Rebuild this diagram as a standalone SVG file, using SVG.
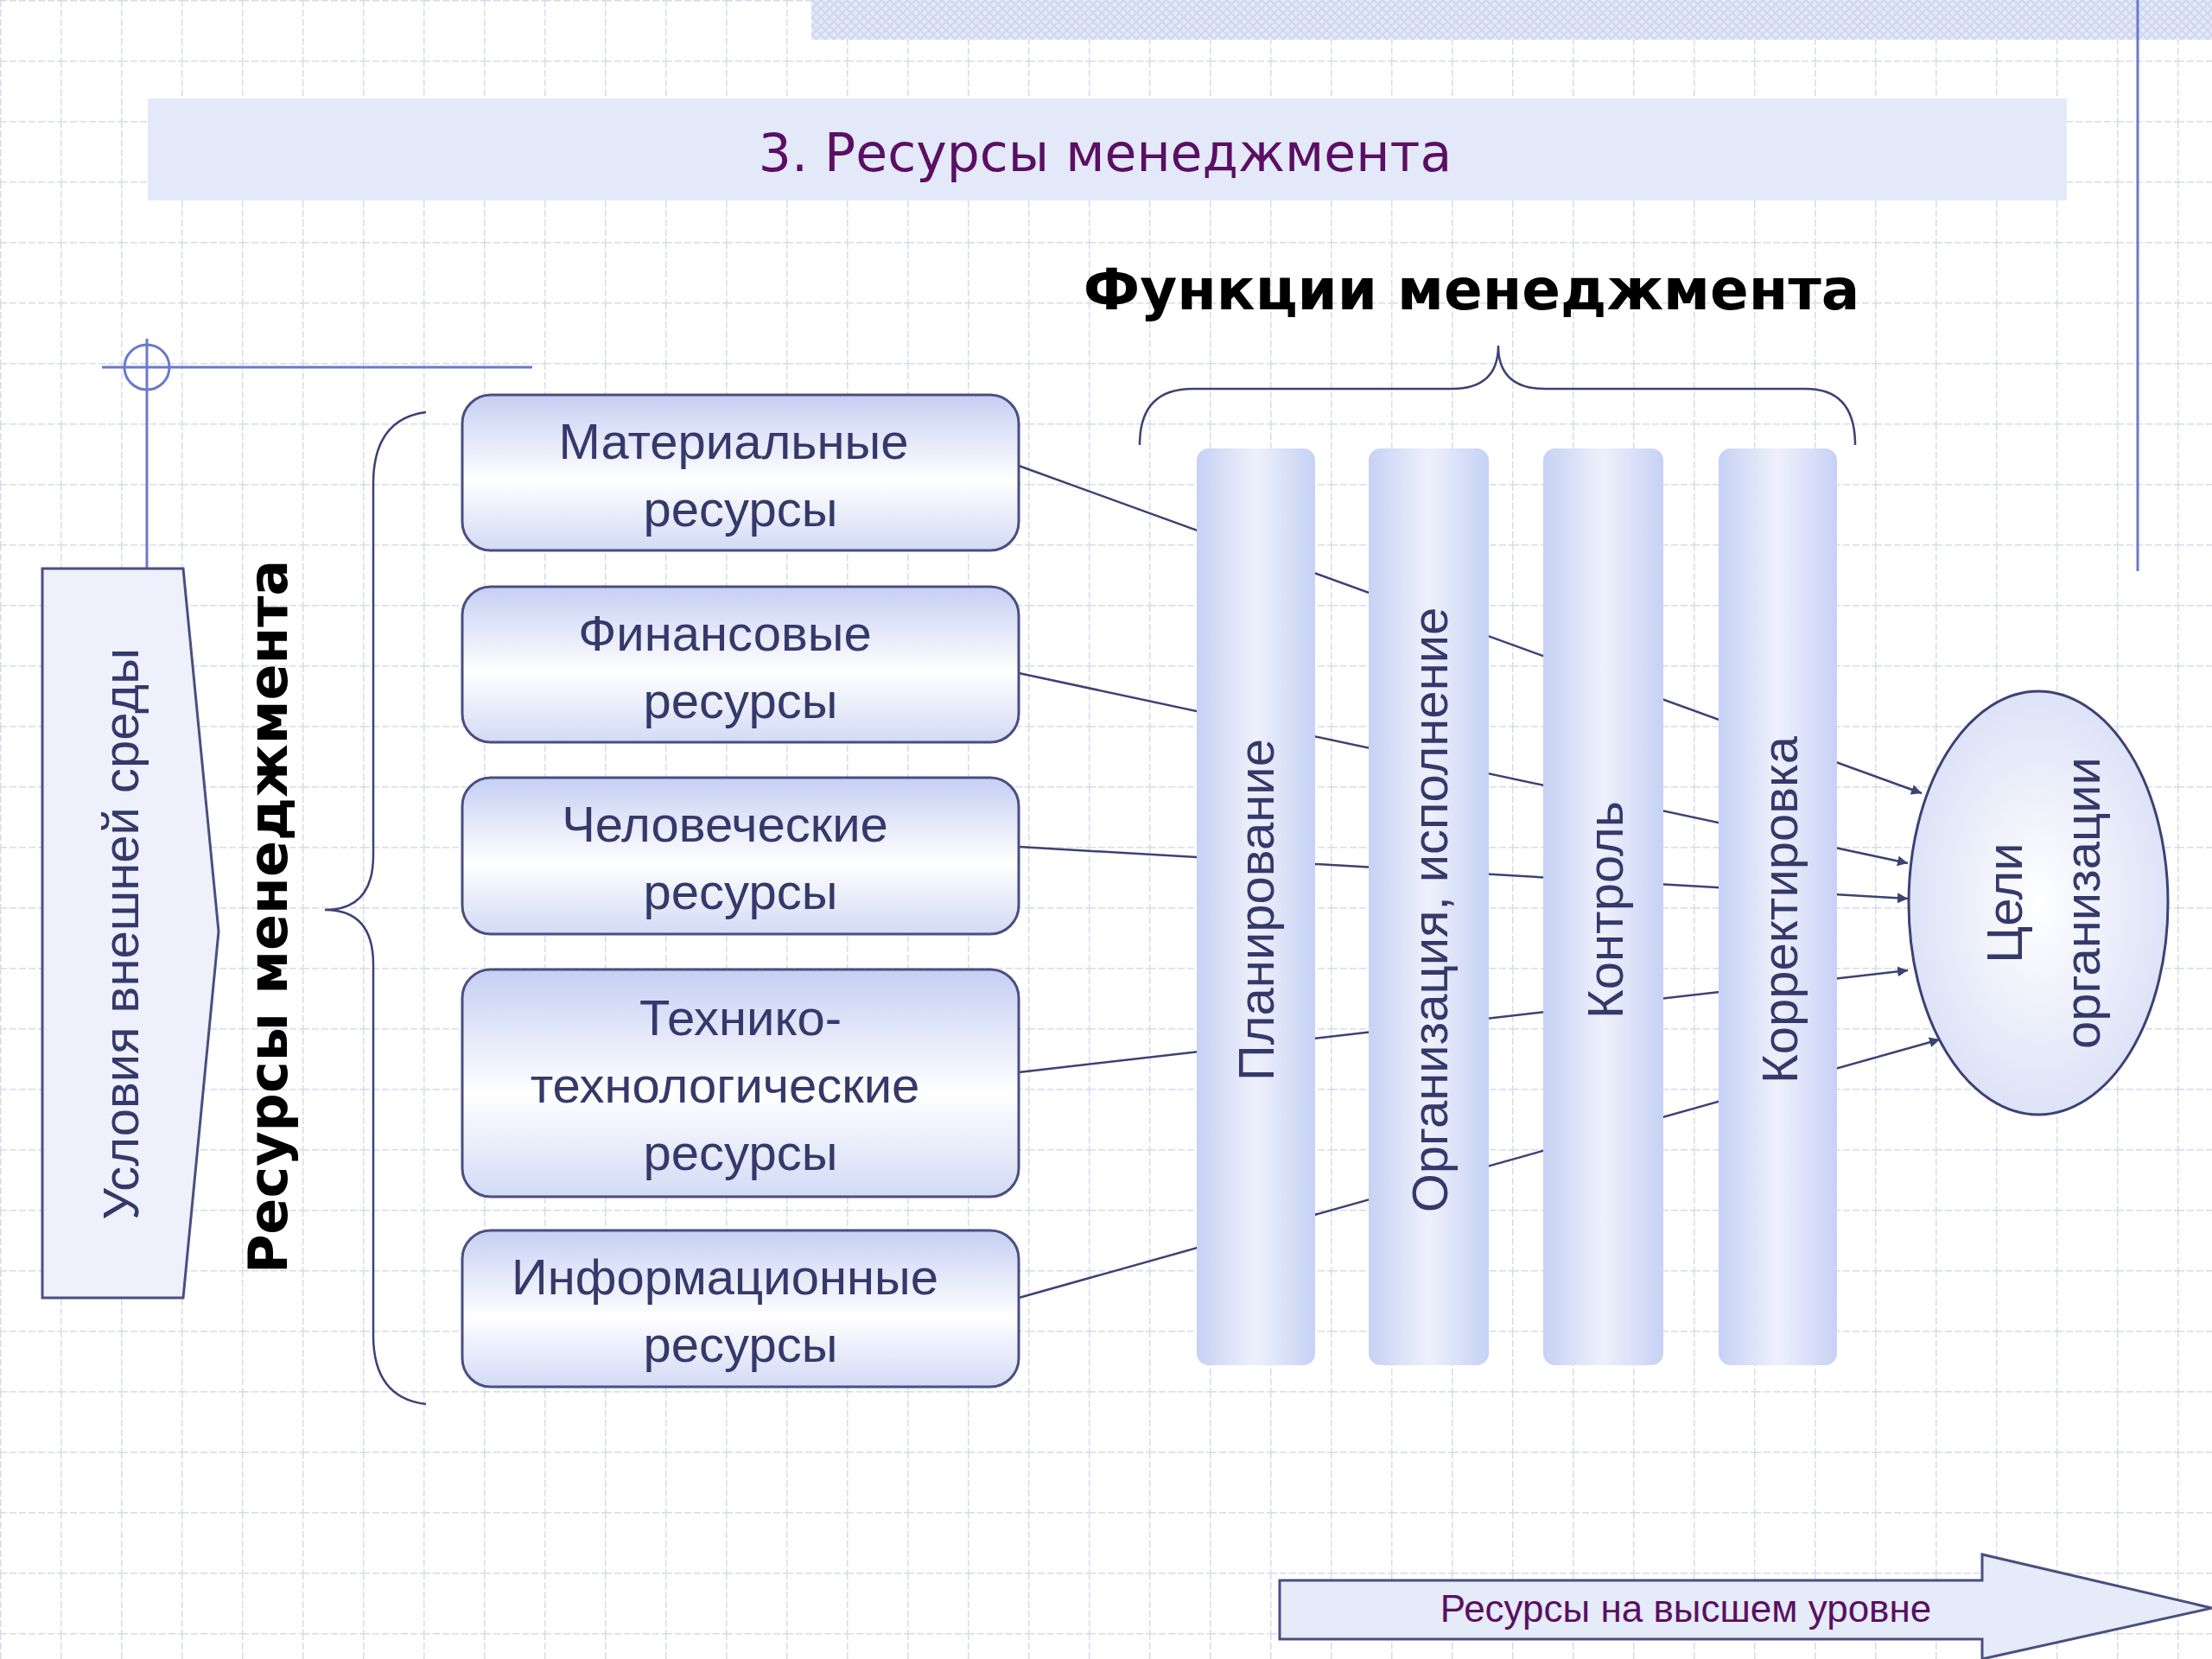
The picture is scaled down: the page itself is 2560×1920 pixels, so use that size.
<svg xmlns="http://www.w3.org/2000/svg" width="2560" height="1920" viewBox="0 0 2560 1920">
<style>
.box{stroke:#4a4f80;stroke-width:3;fill:url(#bg)}
.col{fill:url(#cg)}
.t{font-family:"Liberation Sans",Arial,sans-serif;fill:#35396a;font-size:58px;text-anchor:middle}
.b{font-family:"DejaVu Sans",sans-serif;font-weight:bold;fill:#000;text-anchor:middle}
.c{stroke:#3c4275;stroke-width:2.5;fill:none}
</style>
<defs>
<pattern id="grid" width="70" height="70" patternUnits="userSpaceOnUse">
<path d="M0 0H70M0 0V70" stroke="#d6dcec" stroke-width="3" stroke-dasharray="8 3" fill="none"/>
</pattern>
<pattern id="hatch" width="10" height="10" patternUnits="userSpaceOnUse">
<rect width="10" height="10" fill="#e4e9f7"/><path d="M0 10L10 0M0 0L10 10" stroke="#cfd7ef" stroke-width="2"/>
</pattern>
<linearGradient id="bg" x1="0" y1="0" x2="0" y2="1">
<stop offset="0" stop-color="#c5cff3"/><stop offset="0.55" stop-color="#ffffff"/><stop offset="1" stop-color="#d2daf5"/>
</linearGradient>
<linearGradient id="cg" x1="0" y1="0" x2="1" y2="0">
<stop offset="0" stop-color="#c6d1f4"/><stop offset="0.5" stop-color="#eef1fc"/><stop offset="1" stop-color="#c6d1f4"/>
</linearGradient>
<radialGradient id="eg"><stop offset="0" stop-color="#ffffff"/><stop offset="1" stop-color="#dde3f7"/></radialGradient>
<marker id="ar" viewBox="0 0 10 10" refX="10" refY="5" markerWidth="12" markerHeight="12" markerUnits="userSpaceOnUse" orient="auto">
<path d="M0 0L10 5L0 10Z" fill="#3c4275"/>
</marker>
</defs>
<rect width="2560" height="1920" fill="#fff"/>
<rect width="2560" height="1920" fill="url(#grid)"/>
<rect x="939" y="0" width="1621" height="46" fill="url(#hatch)"/>
<line x1="2474" y1="0" x2="2474" y2="661" stroke="#6a7acc" stroke-width="3"/>
<g id="title">
<rect x="171" y="114" width="2221" height="118" fill="#e4e9fa"/>
<text x="1279" y="198" font-family="Verdana,'DejaVu Sans',sans-serif" font-size="60" fill="#5a0f63" text-anchor="middle">3. Ресурсы менеджмента</text>
</g>
<g id="crosshair" stroke="#6a7acc" stroke-width="3" fill="none">
<line x1="118" y1="425" x2="616" y2="425"/>
<circle cx="170" cy="425" r="26"/>
<line x1="170" y1="392" x2="170" y2="661"/>
</g>
<g id="env">
<path d="M49 658H212L253 1078L212 1502H49Z" fill="#eef1fc" stroke="#4a4f80" stroke-width="3"/>
<text class="t" transform="translate(160 1081) rotate(-90)" font-size="60">Условия внешней среды</text>
</g>
<g id="resLabel"><text class="b" font-size="62" transform="translate(332 1061) rotate(-90)">Ресурсы менеджмента</text></g>
<g id="funcLabel"><text class="b" font-size="66" x="1703" y="358">Функции менеджмента</text></g>
<path d="M493 477Q432 485 432 560V990Q432 1053 376 1053Q432 1053 432 1116V1545Q432 1618 493 1625" class="c"/>
<path d="M1319 515Q1319 450 1380 450H1680Q1734 450 1734 400Q1734 450 1788 450H2090Q2147 450 2147 515" class="c"/>
<g id="connectors">
<line class="c" x1="1179" y1="539" x2="2224" y2="918" marker-end="url(#ar)"/>
<line class="c" x1="1179" y1="779" x2="2208" y2="999" marker-end="url(#ar)"/>
<line class="c" x1="1179" y1="980" x2="2208" y2="1040" marker-end="url(#ar)"/>
<line class="c" x1="1179" y1="1241" x2="2208" y2="1123" marker-end="url(#ar)"/>
<line class="c" x1="1179" y1="1502" x2="2245" y2="1203" marker-end="url(#ar)"/>
</g>
<g id="r1"><rect class="box" x="535" y="457" width="644" height="180" rx="33"/><text class="t" x="849" y="531">Материальные</text><text class="t" x="857" y="609">ресурсы</text></g>
<g id="r2"><rect class="box" x="535" y="679" width="644" height="180" rx="33"/><text class="t" x="839" y="753">Финансовые</text><text class="t" x="857" y="831">ресурсы</text></g>
<g id="r3"><rect class="box" x="535" y="900" width="644" height="181" rx="33"/><text class="t" x="839" y="974">Человеческие</text><text class="t" x="857" y="1052">ресурсы</text></g>
<g id="r4"><rect class="box" x="535" y="1122" width="644" height="263" rx="33"/><text class="t" x="857" y="1198">Технико-</text><text class="t" x="839" y="1276">технологические</text><text class="t" x="857" y="1354">ресурсы</text></g>
<g id="r5"><rect class="box" x="535" y="1424" width="644" height="181" rx="33"/><text class="t" x="839" y="1498">Информационные</text><text class="t" x="857" y="1576">ресурсы</text></g>
<g id="f1"><rect class="col" x="1385" y="519" width="137" height="1061" rx="14"/><text class="t" transform="translate(1474 1053) rotate(-90)">Планирование</text></g>
<g id="f2"><rect class="col" x="1584" y="519" width="139" height="1061" rx="14"/><text class="t" transform="translate(1675 1053) rotate(-90)">Организация, исполнение</text></g>
<g id="f3"><rect class="col" x="1786" y="519" width="139" height="1061" rx="14"/><text class="t" transform="translate(1878 1053) rotate(-90)">Контроль</text></g>
<g id="f4"><rect class="col" x="1989" y="519" width="137" height="1061" rx="14"/><text class="t" transform="translate(2080 1053) rotate(-90)">Корректировка</text></g>
<g id="goal">
<ellipse cx="2359" cy="1045" rx="150" ry="245" fill="url(#eg)" stroke="#3c4275" stroke-width="3"/>
<text class="t" font-size="64" transform="translate(2340 1045) rotate(-90)">Цели</text>
<text class="t" font-size="64" transform="translate(2430 1045) rotate(-90)">организации</text>
</g>
<g id="bottomArrow">
<path d="M1481 1829H2294V1799L2560 1861L2294 1920V1897H1481Z" fill="#e6ebfa" stroke="#4a4f80" stroke-width="3"/>
<text x="1951" y="1877" font-family="'Liberation Sans',Arial,sans-serif" font-size="44" fill="#5a0f63" text-anchor="middle">Ресурсы на высшем уровне</text>
</g>
</svg>
